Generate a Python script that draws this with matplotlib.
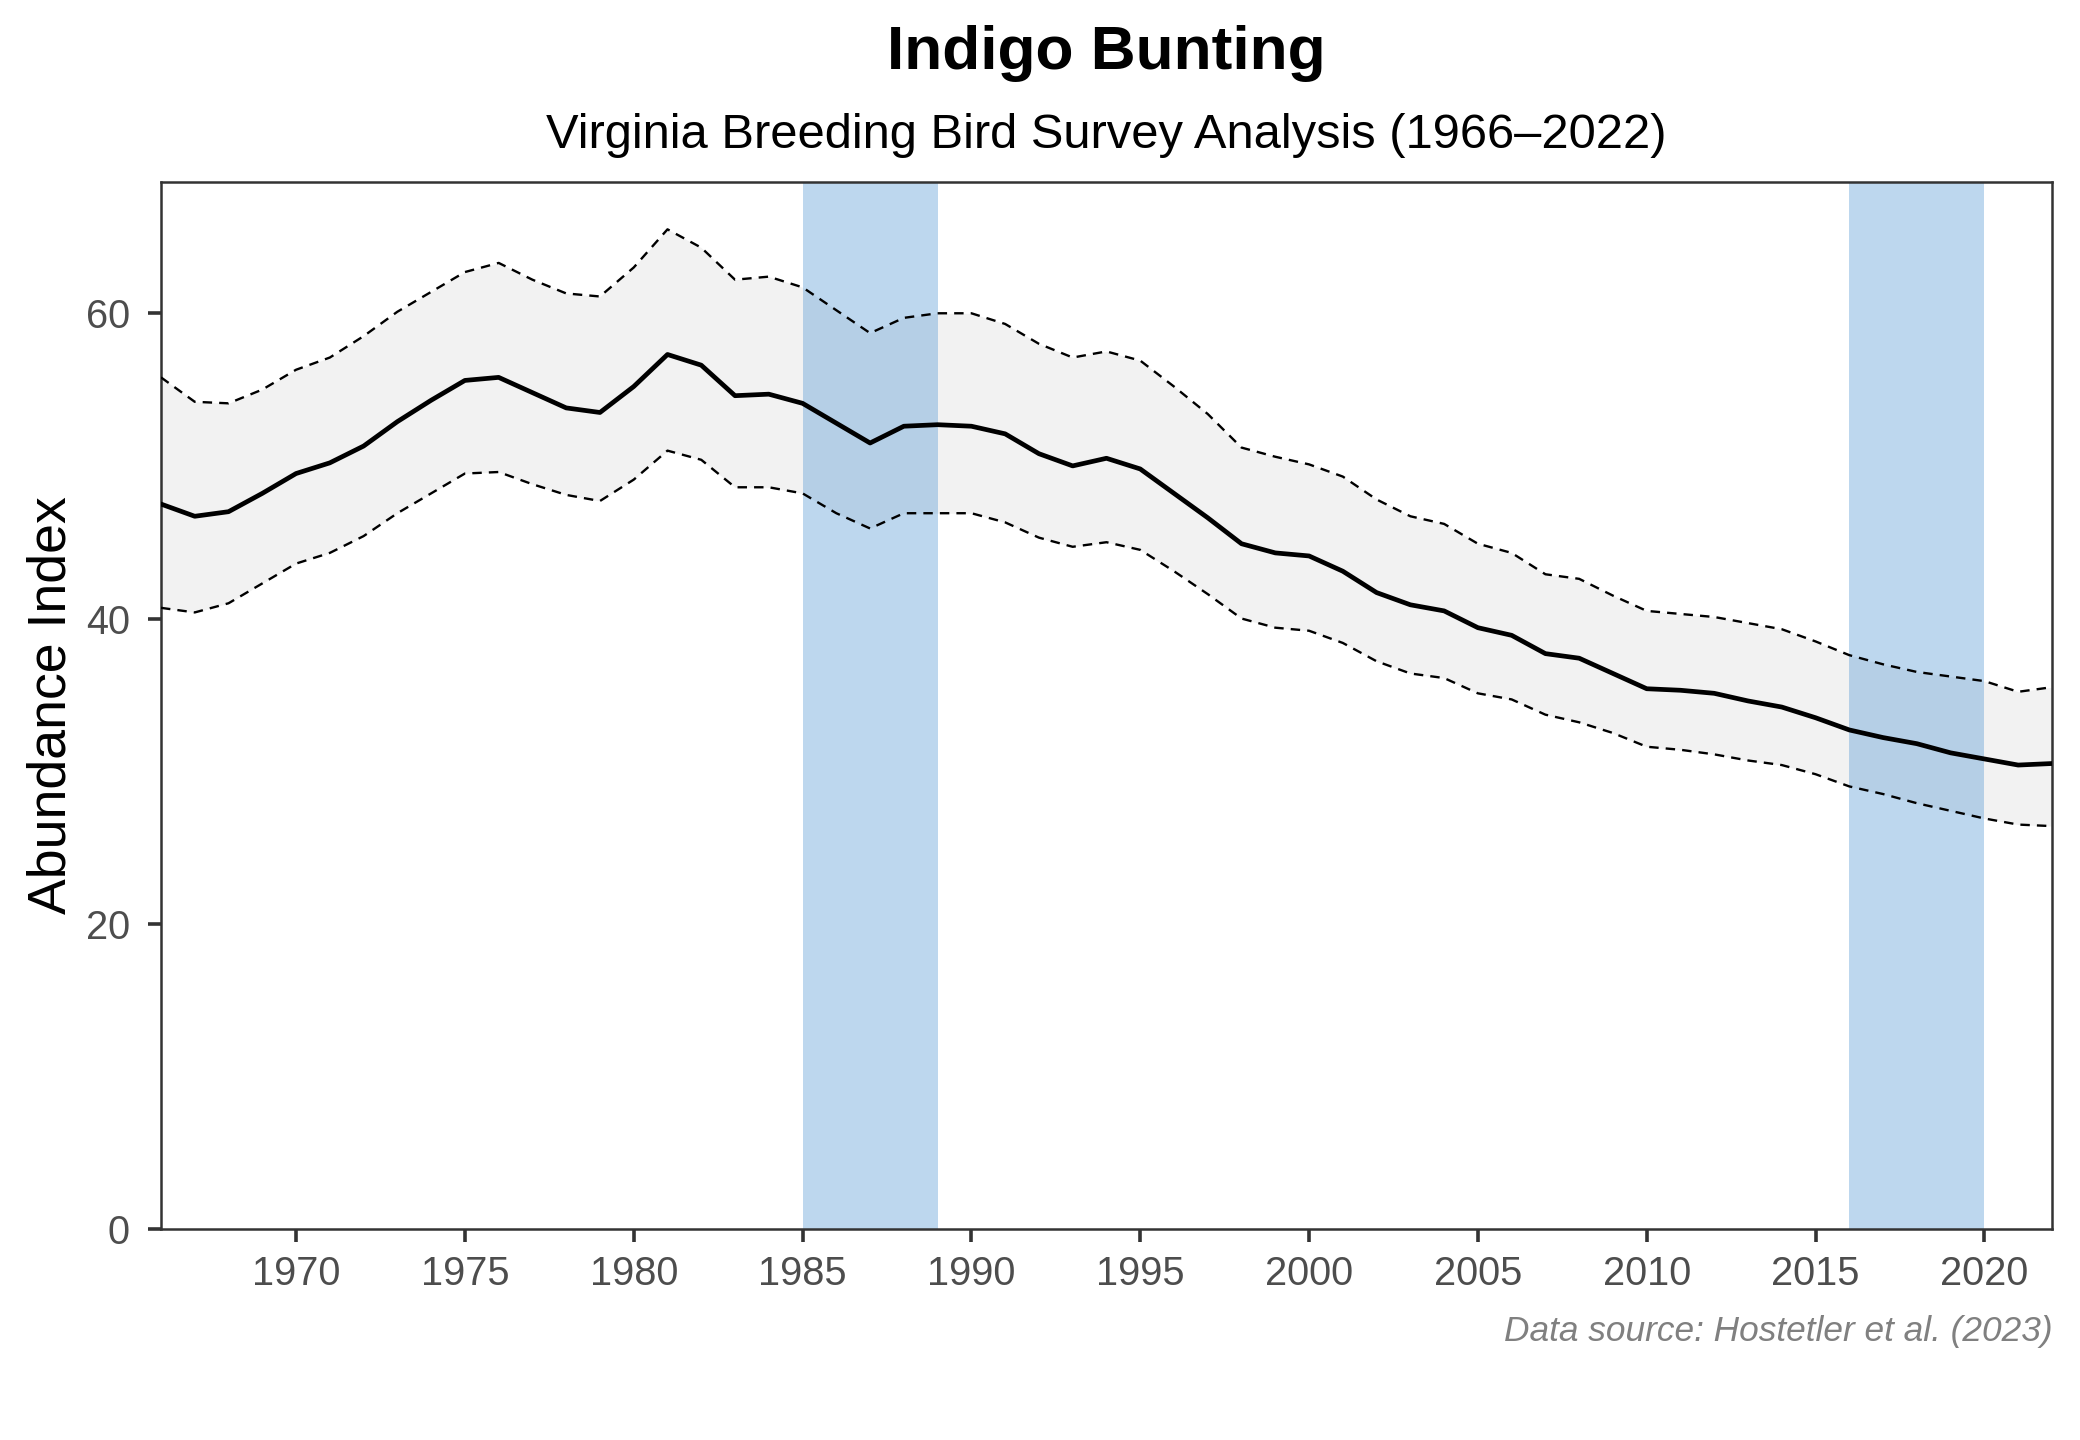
import matplotlib
matplotlib.use("Agg")
import matplotlib.pyplot as plt
import numpy as np

plt.rcParams['font.family'] = ['Liberation Sans', 'DejaVu Sans']

years = list(range(1966, 2023))
index = [47.5, 46.7, 47.0, 48.2, 49.5, 50.2, 51.3, 52.9, 54.3, 55.6,
         55.8, 54.8, 53.8, 53.5, 55.2, 57.3, 56.6, 54.6, 54.7, 54.1,
         52.8, 51.5, 52.6, 52.7, 52.6, 52.1, 50.8, 50.0, 50.5, 49.8,
         48.2, 46.6, 44.9, 44.3, 44.1, 43.1, 41.7, 40.9, 40.5, 39.4,
         38.9, 37.7, 37.4, 36.4, 35.4, 35.3, 35.1, 34.6, 34.2, 33.5,
         32.7, 32.2, 31.8, 31.2, 30.8, 30.4, 30.5]
upper = [55.8, 54.2, 54.1, 55.0, 56.3, 57.1, 58.5, 60.1, 61.4, 62.7,
         63.3, 62.2, 61.3, 61.1, 63.0, 65.5, 64.3, 62.2, 62.4, 61.7,
         60.2, 58.7, 59.7, 60.0, 60.0, 59.3, 58.0, 57.1, 57.5, 56.9,
         55.2, 53.4, 51.2, 50.6, 50.1, 49.3, 47.8, 46.7, 46.2, 44.9,
         44.3, 42.9, 42.6, 41.5, 40.5, 40.3, 40.1, 39.7, 39.3, 38.5,
         37.6, 37.0, 36.5, 36.2, 35.9, 35.2, 35.5]
lower = [40.7, 40.4, 41.0, 42.3, 43.6, 44.3, 45.4, 46.9, 48.2, 49.5,
         49.6, 48.8, 48.1, 47.7, 49.1, 51.0, 50.4, 48.6, 48.6, 48.2,
         46.9, 45.9, 46.9, 46.9, 46.9, 46.3, 45.3, 44.7, 45.0, 44.5,
         43.1, 41.6, 40.0, 39.4, 39.2, 38.4, 37.2, 36.4, 36.1, 35.1,
         34.7, 33.7, 33.2, 32.5, 31.6, 31.4, 31.1, 30.7, 30.4, 29.8,
         29.0, 28.5, 27.9, 27.4, 26.9, 26.5, 26.4]
bands = [(1985, 1989), (2016, 2020)]
xticks = [1970, 1975, 1980, 1985, 1990, 1995, 2000, 2005, 2010, 2015, 2020]
yticks = [0, 20, 40, 60]

fig = plt.figure(figsize=(10.4, 7.2), dpi=200)
ax_rect = [0.0774, 0.1465, 0.9091, 0.7271]
ax = fig.add_axes(ax_rect)
xc = ax_rect[0] + ax_rect[2] / 2

ax.fill_between(years, lower, upper, color='#F2F2F2', linewidth=0, zorder=1)
for a, b in bands:
    ax.axvspan(a, b, color='#5B9BD5', alpha=0.4, linewidth=0, zorder=2)
ax.plot(years, upper, color='black', lw=0.85, ls=(0, (4, 3)), zorder=3)
ax.plot(years, lower, color='black', lw=0.85, ls=(0, (4, 3)), zorder=3)
ax.plot(years, index, color='black', lw=1.7, zorder=4)

ax.set_xlim(1966, 2022)
ax.set_ylim(0, 68.6)
ax.set_xticks(xticks)
ax.set_yticks(yticks)
for s in ax.spines.values():
    s.set_color('#333333')
    s.set_linewidth(0.9)
ax.tick_params(axis='both', colors='#333333', labelcolor='#4d4d4d',
               labelsize=14.3, length=4.7, width=1.3)
ax.tick_params(axis='x', pad=4.5)
ax.tick_params(axis='y', pad=6.5)
ax.set_ylabel('Abundance Index', fontsize=19.3, color='black', labelpad=3.5)

fig.text(xc, 0.963, 'Indigo Bunting', ha='center', va='center',
         fontsize=22.4, fontweight='bold')
fig.text(xc, 0.906, 'Virginia Breeding Bird Survey Analysis (1966\u20132022)',
         ha='center', va='center', fontsize=17.6)
fig.text(0.9866, 0.0755, 'Data source: Hostetler et al. (2023)', ha='right',
         va='center', fontsize=12.7, style='italic', color='#808080')

fig.savefig('out.png', dpi=200)
